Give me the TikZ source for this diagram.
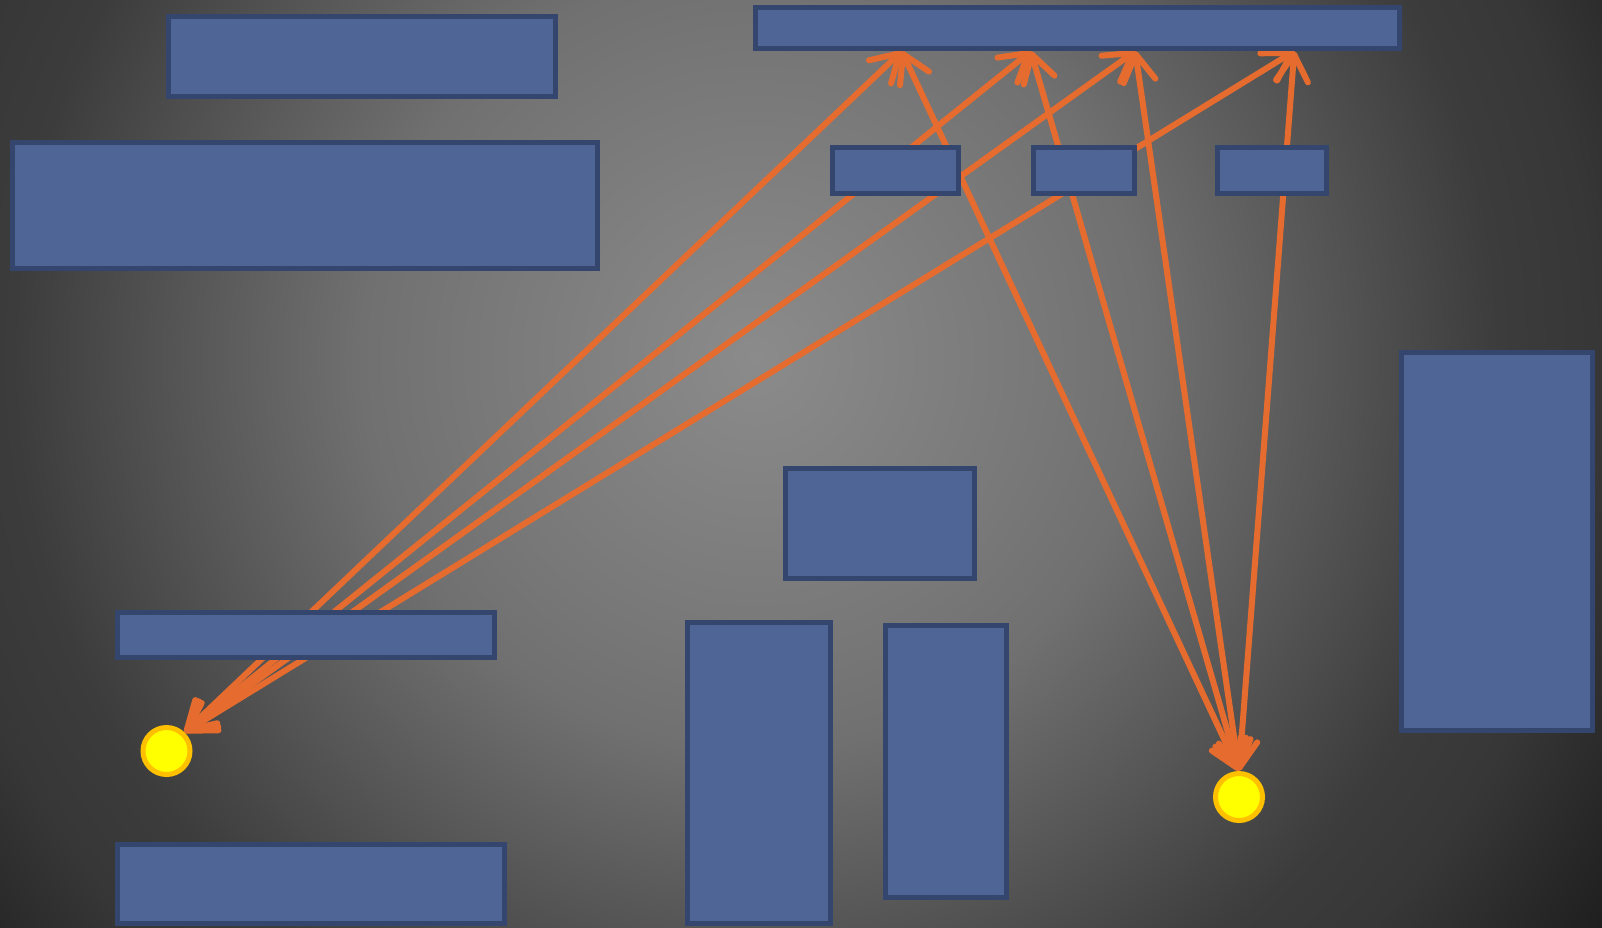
\documentclass[tikz,border=0pt]{standalone}
\usetikzlibrary{arrows.meta}

\pgfdeclarelayer{canvas}
\pgfdeclarelayer{wires}
\pgfsetlayers{canvas,wires,main}

\definecolor{boxfill}{RGB}{78,101,150}
\definecolor{boxline}{RGB}{52,70,110}
\definecolor{wire}{RGB}{229,108,46}
\definecolor{lampfill}{RGB}{255,255,0}
\definecolor{lampline}{RGB}{255,192,0}

% soft spotlight for the backdrop (25bp is fitted to the half size of the shaded path)
\pgfdeclareradialshading{glow}{\pgfpoint{0bp}{0bp}}{%
  rgb(0bp)=(0.545,0.545,0.545);
  rgb(6.85bp)=(0.47,0.47,0.47);
  rgb(9.35bp)=(0.44,0.44,0.44);
  rgb(13.7bp)=(0.335,0.335,0.335);
  rgb(17.7bp)=(0.235,0.235,0.235);
  rgb(20bp)=(0.215,0.215,0.215);
  rgb(24.3bp)=(0.12,0.12,0.12);
  rgb(25bp)=(0.115,0.115,0.115);
  rgb(50bp)=(0.115,0.115,0.115)}

\tikzset{
  barb/.tip={Straight Barb[length=27pt,width=32pt,round]},
  blk/.style={rectangle, draw=boxline, fill=boxfill, line width=4.5pt,
    inner sep=0pt},
  lamp/.style={circle, draw=lampline, fill=lampfill, line width=5pt,
    minimum size=47pt, inner sep=0pt},
  link/.style={draw=wire, line width=6pt, line cap=round, barb-barb},
}

\begin{document}
\begin{tikzpicture}[x=1pt,y=-1pt]
\useasboundingbox (0,0) rectangle (1602,927);

\begin{pgfonlayer}{canvas}
  \begin{scope}
    \clip (0,0) rectangle (1602,927);
    \shade[shading=glow] (-294,-692) rectangle (1806,1408);
  \end{scope}
\end{pgfonlayer}

% blocks
\node[blk, minimum width=387pt, minimum height=80pt]  (A)  at (362,56.5) {};
\node[blk, minimum width=585pt, minimum height=126pt] (B)  at (305,205.5) {};
\node[blk, minimum width=644pt, minimum height=41pt]  (T)  at (1077.5,28) {};
\node[blk, minimum width=126pt, minimum height=46pt]  (S1) at (895.5,170.5) {};
\node[blk, minimum width=101pt, minimum height=46pt]  (S2) at (1084,170.5) {};
\node[blk, minimum width=109pt, minimum height=46pt]  (S3) at (1272,170.5) {};
\node[blk, minimum width=189pt, minimum height=110pt] (C)  at (880,523.5) {};
\node[blk, minimum width=377pt, minimum height=45pt]  (D)  at (306,635) {};
\node[blk, minimum width=387pt, minimum height=79pt]  (E)  at (311,884) {};
\node[blk, minimum width=143pt, minimum height=301pt] (F)  at (759,773) {};
\node[blk, minimum width=121pt, minimum height=272pt] (G)  at (946,761.5) {};
\node[blk, minimum width=191pt, minimum height=378pt] (H)  at (1497,541.5) {};

% lamps
\node[lamp] (lampL) at (166.5,751) {};
\node[lamp] (lampR) at (1239,797) {};

% ports
\coordinate (lp) at (lampL.46);
\coordinate (rp) at (lampR.north);
\coordinate (t1) at ([xshift=148.5pt,yshift=-0.5pt]T.south west);
\coordinate (t2) at ([xshift=277.5pt,yshift=-0.5pt]T.south west);
\coordinate (t3) at ([xshift=382pt,yshift=-0.5pt]T.south west);
\coordinate (t4) at ([xshift=541pt,yshift=-0.5pt]T.south west);

% links, drawn behind the blocks
\begin{pgfonlayer}{wires}
  \foreach \t in {t1,t2,t3,t4} {
    \draw[link] (lp) -- (\t);
    \draw[link] (rp) -- (\t);
  }
\end{pgfonlayer}
\end{tikzpicture}
\end{document}
